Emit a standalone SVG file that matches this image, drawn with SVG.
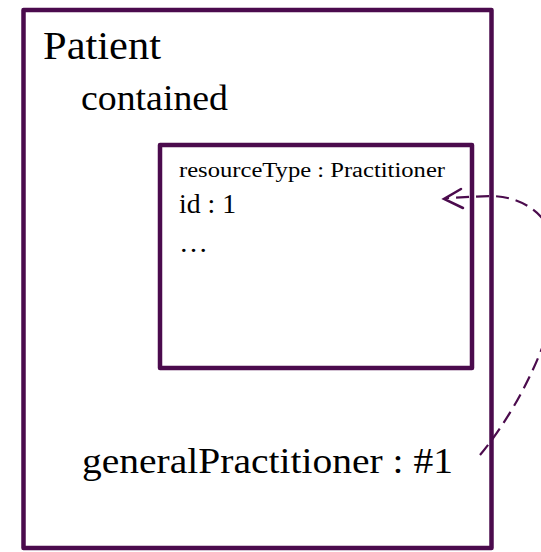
<svg xmlns="http://www.w3.org/2000/svg" width="541" height="552" viewBox="0 0 541 552">
<defs>
<style>
.box{fill:none;stroke:#4b0b4d;stroke-width:4.5;stroke-linejoin:round}
.t{font-family:"Liberation Serif","Times New Roman",serif;fill:#000}
.link{fill:none;stroke:#4b0b4d;stroke-width:2.2;stroke-dasharray:13 7}
.head{fill:none;stroke:#4b0b4d;stroke-width:2.5;stroke-linecap:round}
</style>
</defs>
<rect width="541" height="552" fill="#fff"/>
<g id="patient">
<rect class="box" x="23.5" y="10" width="468" height="538"/>
<text class="t" x="43" y="59" font-size="39" textLength="118" lengthAdjust="spacingAndGlyphs">Patient</text>
<text class="t" x="81" y="110" font-size="35" textLength="147" lengthAdjust="spacingAndGlyphs">contained</text>
<text class="t" x="82" y="473" font-size="36" textLength="371" lengthAdjust="spacingAndGlyphs">generalPractitioner : #1</text>
</g>
<g id="practitioner">
<rect class="box" x="160" y="145" width="312" height="223"/>
<text class="t" x="179" y="177" font-size="20" textLength="266" lengthAdjust="spacingAndGlyphs">resourceType : Practitioner</text>
<text class="t" x="179" y="213" font-size="27" textLength="57" lengthAdjust="spacingAndGlyphs">id : 1</text>
<text class="t" x="179" y="252" font-size="27" textLength="29" lengthAdjust="spacingAndGlyphs">…</text>
</g>
<g id="connectors">
<path class="link" d="M480,455 C530,395 575,290 555,240 C545,212 520,196 490,196 L446,198"/>
<path class="head" d="M461,189 L444,199 L463,208"/>
</g>
</svg>
